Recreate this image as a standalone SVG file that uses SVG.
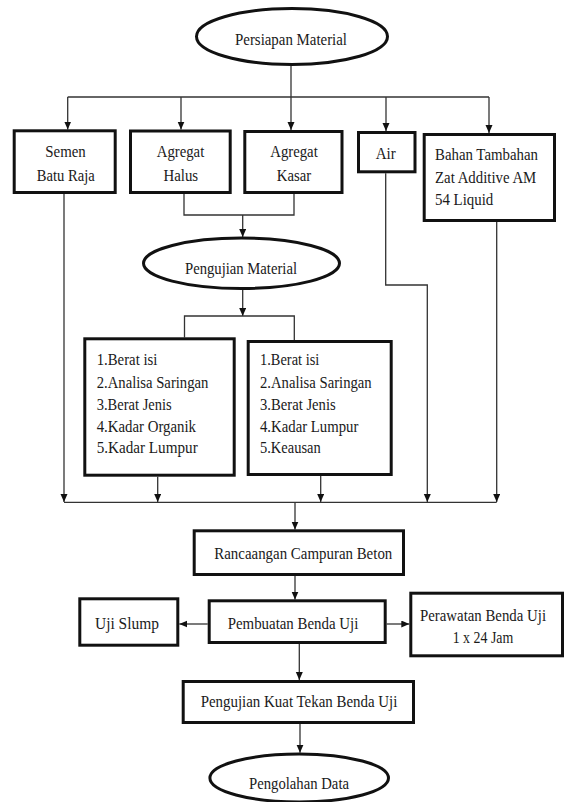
<svg xmlns="http://www.w3.org/2000/svg" width="567" height="802" viewBox="0 0 567 802">
<style>
.box{fill:#fff;stroke:#111;stroke-width:3}
.ell{fill:#fff;stroke:#111;stroke-width:3}
.t{font-family:"Liberation Serif","Times New Roman",serif;font-size:16.5px;fill:#1a1a1a}
.c{text-anchor:middle}
.ln{fill:none;stroke:#333;stroke-width:1.3}
</style>
<defs>
<marker id="ar" markerUnits="userSpaceOnUse" markerWidth="9" markerHeight="8" refX="8" refY="3.5" orient="auto">
<path d="M0,0 L8,3.5 L0,7 z" fill="#111"/>
</marker>
</defs>
<rect width="567" height="802" fill="#fff"/>
<g id="connectors" class="ln">
<path d="M291,66 V97"/>
<path d="M67.7,97 H489"/>
<path d="M67.7,97 V129.5" marker-end="url(#ar)"/>
<path d="M181,97 V129.5" marker-end="url(#ar)"/>
<path d="M291,97 V130" marker-end="url(#ar)"/>
<path d="M386,97 V131" marker-end="url(#ar)"/>
<path d="M489,97 V133" marker-end="url(#ar)"/>
<path d="M184,194 V215 H294 V194"/>
<path d="M242.7,215 V237" marker-end="url(#ar)"/>
<path d="M242.7,290 V316" marker-end="url(#ar)"/>
<path d="M184.5,337.5 V316 H294.3 V340"/>
<path d="M64,194 V502" marker-end="url(#ar)"/>
<path d="M385.7,173.3 V285 H427.3 V502" marker-end="url(#ar)"/>
<path d="M496.7,222 V502" marker-end="url(#ar)"/>
<path d="M157.7,476.7 V502" marker-end="url(#ar)"/>
<path d="M320.7,476 V502" marker-end="url(#ar)"/>
<path d="M64,502.3 H496.7"/>
<path d="M295,502.3 V529.5" marker-end="url(#ar)"/>
<path d="M295,576 V599.5" marker-end="url(#ar)"/>
<path d="M207.7,624 H179.3" marker-end="url(#ar)"/>
<path d="M386.7,624 H409.3" marker-end="url(#ar)"/>
<path d="M299.3,644 V680" marker-end="url(#ar)"/>
<path d="M300,724 V752.7" marker-end="url(#ar)"/>
</g>
<g id="persiapan">
<ellipse class="ell" cx="292" cy="36.5" rx="95.5" ry="28"/>
<text class="t c" x="291" y="44.5" textLength="112" lengthAdjust="spacingAndGlyphs">Persiapan Material</text>
</g>
<g id="semen">
<rect class="box" x="14.2" y="130.8" width="101" height="61.7"/>
<text class="t c" x="65.5" y="157.2" textLength="40.5" lengthAdjust="spacingAndGlyphs">Semen</text>
<text class="t c" x="65.8" y="180.5" textLength="58" lengthAdjust="spacingAndGlyphs">Batu Raja</text>
</g>
<g id="halus">
<rect class="box" x="130.5" y="131" width="99.7" height="61.5"/>
<text class="t c" x="180.5" y="157.2" textLength="47.5" lengthAdjust="spacingAndGlyphs">Agregat</text>
<text class="t c" x="180.8" y="180.5" textLength="34.7" lengthAdjust="spacingAndGlyphs">Halus</text>
</g>
<g id="kasar">
<rect class="box" x="244.8" y="131.5" width="97.2" height="61"/>
<text class="t c" x="294" y="157.2" textLength="47.5" lengthAdjust="spacingAndGlyphs">Agregat</text>
<text class="t c" x="294" y="180.5" textLength="34.3" lengthAdjust="spacingAndGlyphs">Kasar</text>
</g>
<g id="air">
<rect class="box" x="358.5" y="132.5" width="56.5" height="39.3"/>
<text class="t c" x="385.7" y="159" textLength="20" lengthAdjust="spacingAndGlyphs">Air</text>
</g>
<g id="bahan">
<rect class="box" x="424.2" y="134.5" width="130.3" height="86"/>
<text class="t" x="435" y="160" textLength="103" lengthAdjust="spacingAndGlyphs">Bahan Tambahan</text>
<text class="t" x="435" y="182.5" textLength="101.3" lengthAdjust="spacingAndGlyphs">Zat Additive AM</text>
<text class="t" x="435" y="205" textLength="58.3" lengthAdjust="spacingAndGlyphs">54 Liquid</text>
</g>
<g id="pengujian">
<ellipse class="ell" cx="241.5" cy="263.3" rx="98" ry="25.2"/>
<text class="t c" x="241" y="273.8" textLength="112" lengthAdjust="spacingAndGlyphs">Pengujian Material</text>
</g>
<g id="uji-halus">
<rect class="box" x="84.8" y="338.8" width="149.4" height="136.4"/>
<text class="t" x="96.7" y="364.8" textLength="60.7" lengthAdjust="spacingAndGlyphs">1.Berat isi</text>
<text class="t" x="96.7" y="388.2" textLength="111.7" lengthAdjust="spacingAndGlyphs">2.Analisa Saringan</text>
<text class="t" x="96.7" y="409.5" textLength="75" lengthAdjust="spacingAndGlyphs">3.Berat Jenis</text>
<text class="t" x="96.7" y="431.5" textLength="99.3" lengthAdjust="spacingAndGlyphs">4.Kadar Organik</text>
<text class="t" x="96.7" y="452.8" textLength="101" lengthAdjust="spacingAndGlyphs">5.Kadar Lumpur</text>
</g>
<g id="uji-kasar">
<rect class="box" x="248.2" y="341.5" width="143" height="133"/>
<text class="t" x="260" y="364.8" textLength="59.3" lengthAdjust="spacingAndGlyphs">1.Berat isi</text>
<text class="t" x="260" y="388.2" textLength="111.7" lengthAdjust="spacingAndGlyphs">2.Analisa Saringan</text>
<text class="t" x="260" y="409.5" textLength="75.7" lengthAdjust="spacingAndGlyphs">3.Berat Jenis</text>
<text class="t" x="260" y="431.5" textLength="98.3" lengthAdjust="spacingAndGlyphs">4.Kadar Lumpur</text>
<text class="t" x="260" y="452.8" textLength="60.7" lengthAdjust="spacingAndGlyphs">5.Keausan</text>
</g>
<g id="rancangan">
<rect class="box" x="194.2" y="530.8" width="209.3" height="43.7"/>
<text class="t c" x="303.3" y="558.8" textLength="178" lengthAdjust="spacingAndGlyphs">Rancaangan Campuran Beton</text>
</g>
<g id="slump">
<rect class="box" x="79.8" y="598.8" width="98" height="46.4"/>
<text class="t c" x="127" y="628.5" textLength="64" lengthAdjust="spacingAndGlyphs">Uji Slump</text>
</g>
<g id="pembuatan">
<rect class="box" x="209.2" y="600.8" width="176" height="41.7"/>
<text class="t c" x="293" y="628.8" textLength="130.6" lengthAdjust="spacingAndGlyphs">Pembuatan Benda Uji</text>
</g>
<g id="perawatan">
<rect class="box" x="410.8" y="593.2" width="151.7" height="62.6"/>
<text class="t c" x="483" y="620.5" textLength="126" lengthAdjust="spacingAndGlyphs">Perawatan Benda Uji</text>
<text class="t c" x="483" y="642.8" textLength="60.6" lengthAdjust="spacingAndGlyphs">1 x 24 Jam</text>
</g>
<g id="kuat-tekan">
<rect class="box" x="183.2" y="681.5" width="230.3" height="41"/>
<text class="t c" x="299" y="707.2" textLength="196.7" lengthAdjust="spacingAndGlyphs">Pengujian Kuat Tekan Benda Uji</text>
</g>
<g id="pengolahan">
<ellipse class="ell" cx="299.2" cy="778" rx="89.3" ry="24"/>
<text class="t c" x="299" y="788.8" textLength="100" lengthAdjust="spacingAndGlyphs">Pengolahan Data</text>
</g>
</svg>
